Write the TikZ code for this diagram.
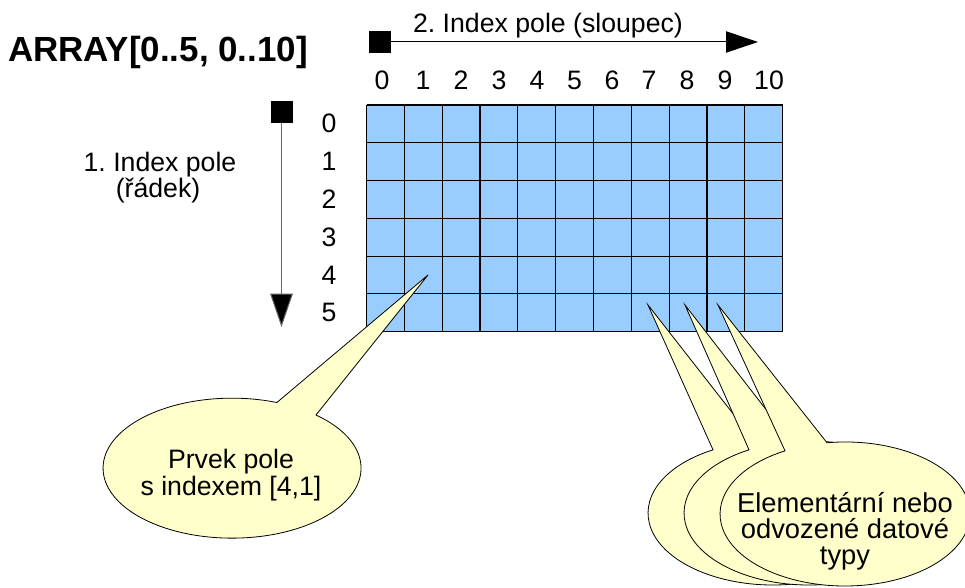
\documentclass[tikz,border=0pt]{standalone}
\usepackage{fontspec}
\setmainfont{Liberation Sans}
\usetikzlibrary{arrows.meta}
\definecolor{cellblue}{HTML}{99CCFF}
\definecolor{callfill}{HTML}{FFFFCC}
\frenchspacing
\begin{document}
\begin{tikzpicture}[x=0.75pt,y=-0.75pt,
  lbl/.style={font=\fontsize{20}{20}\selectfont, inner sep=0pt, align=center},
  digit/.style={font=\fontsize{20}{20}\selectfont, inner sep=0pt, anchor=base},
  callout/.style={draw=black, line width=0.6pt, fill=callfill, line join=miter},
  marker/.style={fill=black, minimum size=16.5pt, inner sep=0pt, draw=none},
  gridline/.style={draw=black, line width=0.8pt},
]
\useasboundingbox (0,0) rectangle (965,588);
\clip (0,0) rectangle (965,588);

% title
\node[font=\bfseries\fontsize{26.2}{28}\selectfont, inner sep=0pt, anchor=base] (title) at (158,62) {ARRAY[0..5, 0..10]};

% grid
\fill[cellblue] (366.5,105) rectangle (782.7,331.7);
\foreach \i in {0,...,11} \draw[gridline] ({366.5+\i*37.836},105) -- ({366.5+\i*37.836},331.7);
\foreach \j in {0,...,6} \draw[gridline] (366.5,{105+\j*37.783}) -- (782.7,{105+\j*37.783});

% column labels
\foreach \x [count=\k from 0] in {382,423,461,499,537,574.5,612,649,687,725,769}
  \node[digit] (c\k) at (\x,90) {\k};
% row labels
\foreach \j in {0,...,5}
  \node[digit] (r\j) at (329,{105+37.783*(\j+0.5)+9}) {\j};

% column index arrow
\node[digit] (hlabel) at (548,33) {2. Index pole (sloupec)};
\node[marker] (hstart) at (379.5,42) {};
\coordinate (hend) at (758,42);
\draw[line width=0.75pt, -{Triangle[length=24pt,width=16pt]}] (hstart.east) -- (hend);

% row index arrow
\node[digit] (vlabel1) at (160,172) {1. Index pole};
\node[digit] (vlabel2) at (158,198) {(řádek)};
\node[marker] (vstart) at (281.5,112) {};
\coordinate (vend) at (281.5,327);
\draw[line width=0.75pt, draw=black!60, -{Triangle[length=25pt,width=17pt,fill=black]}] (vstart.south) -- (vend);

% callout 1
\path[callout] (277,402.4) -- (428,275) -- (316,415)
  arc[start angle=-49.4, end angle=290.4, x radius=129, y radius=70] -- cycle;
\node[lbl] (t1) at (231,475) {Prvek pole\\s indexem [4,1]};

% callouts 2 (three stacked)
\path[callout] (713,449.8) -- (648,305) -- (755,441.75)
  arc[start angle=261.7, end angle=601.3, x radius=125, y radius=72] -- cycle;
\path[callout] (749,449.8) -- (685,305) -- (791,441.75)
  arc[start angle=261.7, end angle=601.3, x radius=125, y radius=72] -- cycle;
\path[callout] (785,450.8) -- (718,305) -- (827,442.75)
  arc[start angle=261.7, end angle=601.3, x radius=125, y radius=72] -- cycle;
\node[lbl, font=\fontsize{20.5}{19.5}\selectfont] (t2) at (845,531) {Elementární nebo\\odvozené datové\\typy};
\end{tikzpicture}
\end{document}
